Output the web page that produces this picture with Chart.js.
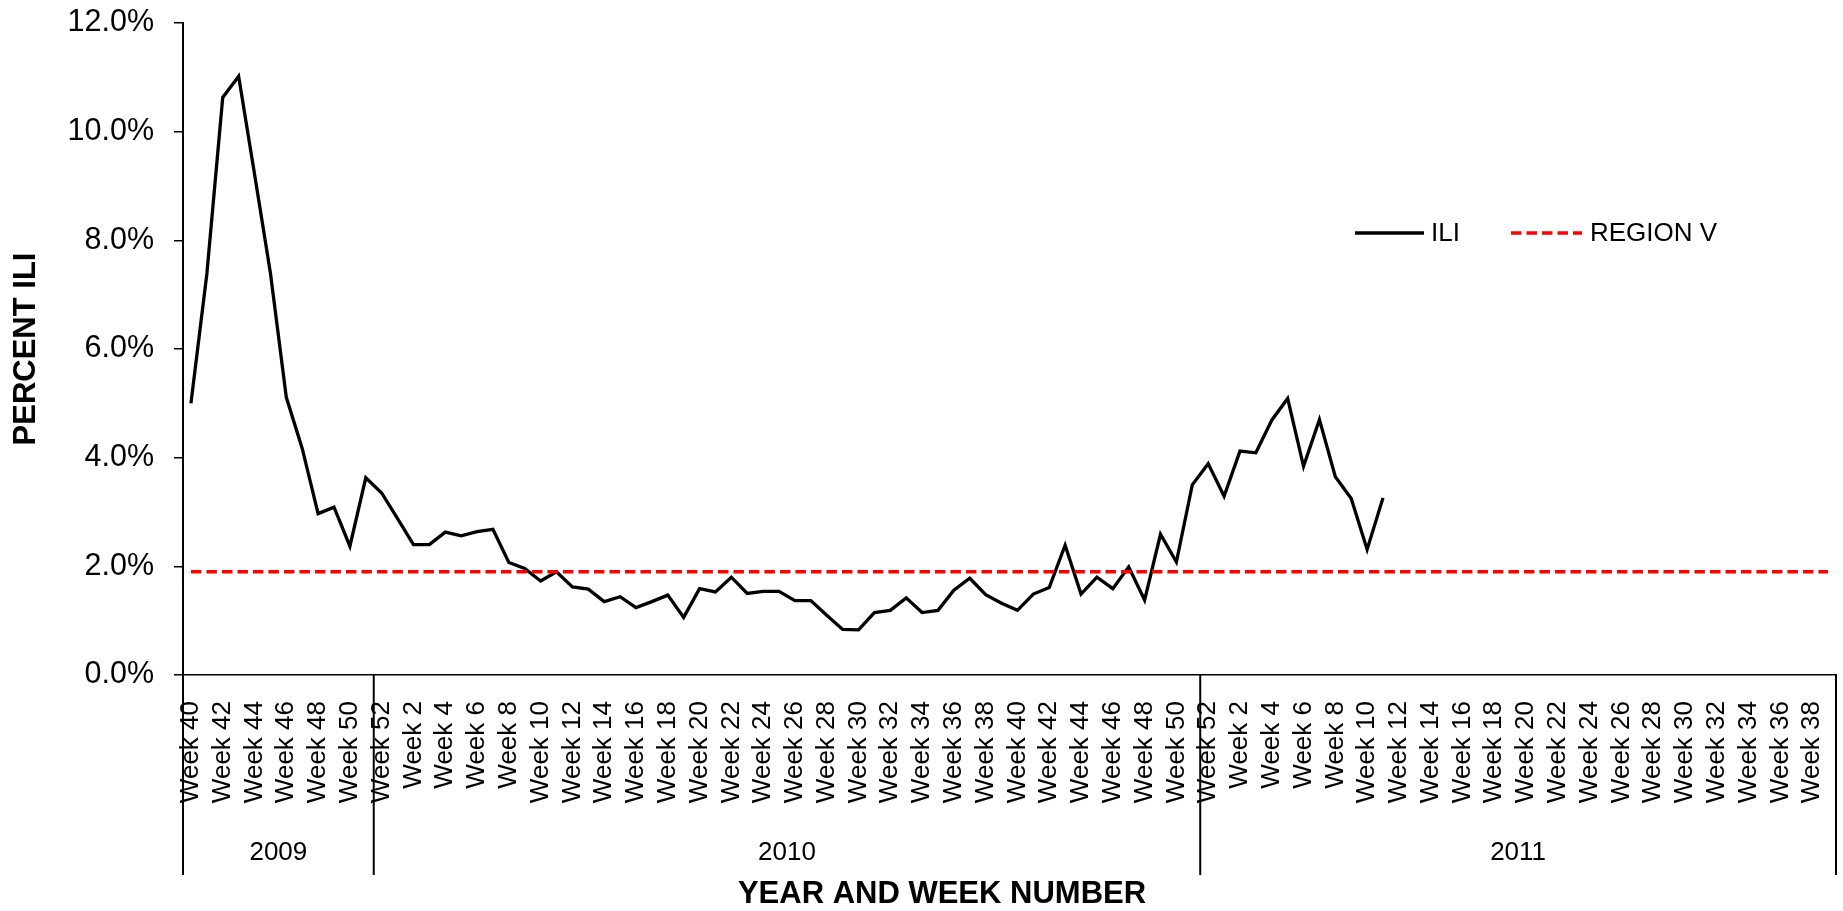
<!DOCTYPE html>
<html>
<head>
<meta charset="utf-8">
<script src="https://cdn.jsdelivr.net/npm/chart.js@4.4.1/dist/chart.umd.min.js"></script>
<style>
html,body{margin:0;padding:0;background:#fff;overflow:hidden}
canvas{display:block}
</style>
</head>
<body>
<canvas id="c" width="1843" height="911"></canvas>
<script>
// ---- DATA ----
const years = ['2009', '2010', '2011'];
const weeks2009 = [40,41,42,43,44,45,46,47,48,49,50,51];
const weeks2010 = [52,1,2,3,4,5,6,7,8,9,10,11,12,13,14,15,16,17,18,19,20,21,22,23,24,25,26,27,28,29,30,31,32,33,34,35,36,37,38,39,40,41,42,43,44,45,46,47,48,49,50,51];
const weeks2011 = [52,1,2,3,4,5,6,7,8,9,10,11,12,13,14,15,16,17,18,19,20,21,22,23,24,25,26,27,28,29,30,31,32,33,34,35,36,37,38,39];

// percent ILI (ends at 2011 Week 11)
const ili = [
  5.00, 7.38, 10.63, 11.02, 9.22, 7.40, 5.11, 4.17, 2.97, 3.09, 2.37, 3.63,
  3.35, 2.88, 2.40, 2.40, 2.63, 2.56, 2.64, 2.68, 2.07, 1.96, 1.73, 1.90,
  1.62, 1.58, 1.35, 1.44, 1.24, 1.35, 1.47, 1.06, 1.59, 1.53, 1.80, 1.50,
  1.54, 1.54, 1.37, 1.37, 1.10, 0.84, 0.83, 1.15, 1.19, 1.42, 1.15, 1.19,
  1.56, 1.78, 1.48, 1.32, 1.19, 1.49, 1.61, 2.39, 1.49, 1.80, 1.59, 1.99,
  1.38, 2.59, 2.08, 3.50, 3.89, 3.29, 4.12, 4.09, 4.69, 5.09, 3.84, 4.70,
  3.65, 3.25, 2.31, 3.26
];

// Region V baseline, one value per week
const regionV = [
  1.9,1.9,1.9,1.9,1.9,1.9,1.9,1.9,1.9,1.9,1.9,1.9,1.9,
  1.9,1.9,1.9,1.9,1.9,1.9,1.9,1.9,1.9,1.9,1.9,1.9,1.9,
  1.9,1.9,1.9,1.9,1.9,1.9,1.9,1.9,1.9,1.9,1.9,1.9,1.9,
  1.9,1.9,1.9,1.9,1.9,1.9,1.9,1.9,1.9,1.9,1.9,1.9,1.9,
  1.9,1.9,1.9,1.9,1.9,1.9,1.9,1.9,1.9,1.9,1.9,1.9,1.9,
  1.9,1.9,1.9,1.9,1.9,1.9,1.9,1.9,1.9,1.9,1.9,1.9,1.9,
  1.9,1.9,1.9,1.9,1.9,1.9,1.9,1.9,1.9,1.9,1.9,1.9,1.9,
  1.9,1.9,1.9,1.9,1.9,1.9,1.9,1.9,1.9,1.9,1.9,1.9,1.9
];

const yTicks = [0, 2, 4, 6, 8, 10, 12];

// ---- BUILD ----
const FONT = "'Liberation Sans', Arial, Helvetica, sans-serif";
const weekGroups = [weeks2009, weeks2010, weeks2011];
const labels = weekGroups.flat().map(w => 'Week ' + w);

const groupPlugin = {
  id: 'groups',
  afterDraw(chart) {
    const ctx = chart.ctx;
    const xs = chart.scales.x;
    const ca = chart.chartArea;
    const total = labels.length;
    const lineBottom = ca.bottom + 200;
    const boundaryPx = (b) => {
      if (b === 0) return ca.left;
      if (b === total) return ca.right;
      return (xs.getPixelForValue(b - 1) + xs.getPixelForValue(b)) / 2;
    };
    const bounds = [0];
    weekGroups.forEach(g => bounds.push(bounds[bounds.length - 1] + g.length));
    ctx.save();
    ctx.strokeStyle = '#000';
    ctx.lineWidth = 2;
    bounds.forEach(b => {
      const px = boundaryPx(b);
      ctx.beginPath();
      ctx.moveTo(px, ca.bottom);
      ctx.lineTo(px, lineBottom);
      ctx.stroke();
    });
    ctx.fillStyle = '#000';
    ctx.font = '26px ' + FONT;
    ctx.textAlign = 'center';
    ctx.textBaseline = 'middle';
    years.forEach((y, i) => {
      const cx = (boundaryPx(bounds[i]) + boundaryPx(bounds[i + 1])) / 2;
      ctx.fillText(y, cx, ca.bottom + 178);
    });
    // x axis title
    ctx.font = 'bold 31px ' + FONT;
    ctx.fillText('YEAR AND WEEK NUMBER', 942, 894);

    // legend
    const ds = chart.data.datasets;
    const legendItems = [
      {x1: 1355, x2: 1424, tx: 1431, y: 233, d: ds[0]},
      {x1: 1511, x2: 1582, tx: 1590, y: 233, d: ds[1]}
    ];
    ctx.textAlign = 'left';
    ctx.font = '26px ' + FONT;
    legendItems.forEach(it => {
      ctx.save();
      ctx.strokeStyle = it.d.borderColor;
      ctx.lineWidth = it.d.borderWidth;
      ctx.setLineDash(it.d.borderDash || []);
      ctx.beginPath();
      ctx.moveTo(it.x1, it.y);
      ctx.lineTo(it.x2, it.y);
      ctx.stroke();
      ctx.restore();
      ctx.fillStyle = '#000';
      ctx.fillText(it.d.label, it.tx, it.y + 1);
    });
    ctx.restore();
  }
};

new Chart(document.getElementById('c').getContext('2d'), {
  type: 'line',
  data: {
    labels: labels,
    datasets: [
      {label: 'ILI', data: ili, borderColor: '#000000', borderWidth: 3.3,
       pointRadius: 0, pointHoverRadius: 0, tension: 0, fill: false, order: 1},
      {label: 'REGION V', data: regionV, borderColor: '#ff0000', borderWidth: 3.3,
       borderDash: [10.5, 5], pointRadius: 0, pointHoverRadius: 0, tension: 0, fill: false, order: 0}
    ]
  },
  options: {
    responsive: false,
    animation: false,
    devicePixelRatio: 1,
    layout: {padding: {top: 23, right: 7, left: 0, bottom: 0}},
    plugins: {legend: {display: false}, tooltip: {enabled: false}, title: {display: false}},
    scales: {
      x: {
        type: 'category',
        offset: true,
        grid: {display: false, drawTicks: false},
        border: {display: true, color: '#000', width: 1.5},
        ticks: {
          autoSkip: false, maxRotation: 90, minRotation: 90, padding: 26,
          color: '#000', font: {family: FONT, size: 26},
          callback: function (v, i) { return i % 2 === 0 ? this.getLabelForValue(v) : ''; }
        },
        afterFit(s) { s.height = 236; s.paddingLeft = 0; s.paddingRight = 0; }
      },
      y: {
        min: yTicks[0], max: yTicks[yTicks.length - 1],
        ticks: {
          stepSize: yTicks[1] - yTicks[0], padding: 20, color: '#000',
          font: {family: FONT, size: 30.5},
          callback: v => v.toFixed(1) + '%'
        },
        grid: {display: true, drawOnChartArea: false, drawTicks: true, tickLength: 9, color: '#000', lineWidth: 1.5},
        border: {display: true, color: '#000', width: 2},
        title: {display: true, text: 'PERCENT ILI', color: '#000',
                font: {family: FONT, size: 31, weight: 'bold'}, padding: {top: 8, bottom: 0}},
        afterFit(s) { s.width = 183; s.paddingTop = 0; s.paddingBottom = 0; }
      }
    }
  },
  plugins: [groupPlugin]
});
</script>
</body>
</html>
